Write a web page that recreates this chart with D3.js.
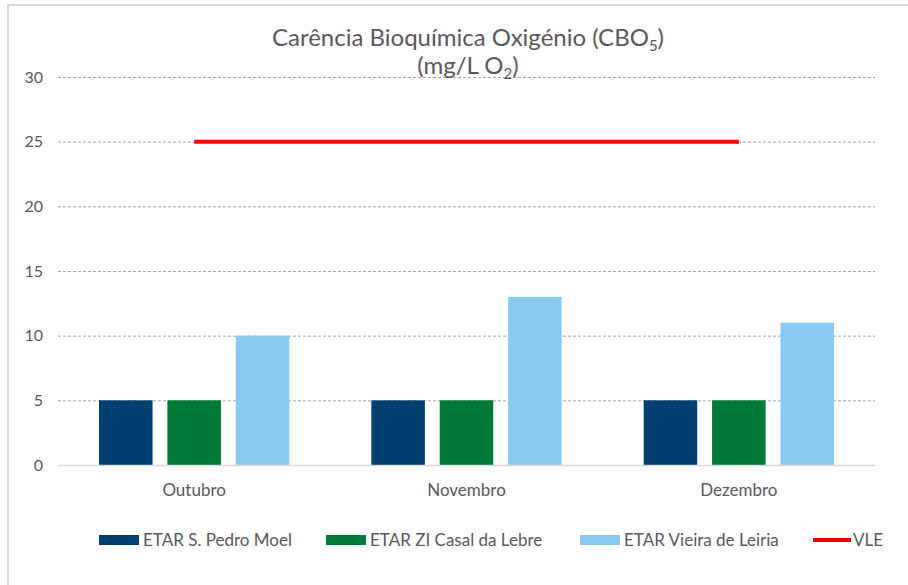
<!DOCTYPE html>
<html>
<head>
<meta charset="utf-8">
<script src="https://cdn.jsdelivr.net/npm/d3@7"></script>
<style>
  body { margin: 0; background: #fff; }
  text { font-family: Lato, "Open Sans", sans-serif; fill: #595959; }
</style>
</head>
<body>
<script>
// data
var months = ["Outubro", "Novembro", "Dezembro"];
var seriesNames = ["ETAR S. Pedro Moel", "ETAR ZI Casal da Lebre", "ETAR Vieira de Leiria"];
var pedroMoel = [5, 5, 5];
var casalLebre = [5, 5, 5];
var vieiraLeiria = [10, 13, 11];
var vle = [25, 25, 25];
var yTicks = [0, 5, 10, 15, 20, 25, 30];

var colors = ["#003f6f", "#007a37", "#89caf2"];
var lineColor = "#ff0000";

var W = 908, H = 585;
var margin = {top: 77, right: 33, bottom: 120, left: 58},
    width = W - margin.left - margin.right,
    height = H - margin.top - margin.bottom;

var svg = d3.select("body").append("svg")
    .attr("width", W)
    .attr("height", H);

// chart border
svg.append("rect")
    .attr("x", 8).attr("y", 5)
    .attr("width", W + 10).attr("height", H + 10)
    .attr("fill", "none")
    .attr("stroke", "#d9d9d9")
    .attr("stroke-width", 2);

var g = svg.append("g")
    .attr("transform", "translate(" + margin.left + "," + margin.top + ")");

var x0 = d3.scaleBand().domain(months).range([0, width]).paddingInner(0).paddingOuter(0);
var x1 = d3.scaleBand().domain(seriesNames).range([41, x0.bandwidth() - 41]).paddingInner(0.217);
var y = d3.scaleLinear().domain([0, 30]).range([height, 0]);

// gridlines
g.selectAll(".grid")
    .data(yTicks.filter(function(d) { return d > 0; }))
  .enter().append("line")
    .attr("x1", 0).attr("x2", width)
    .attr("y1", function(d) { return y(d) + 0.5; })
    .attr("y2", function(d) { return y(d) + 0.5; })
    .attr("stroke", "#a6a6a6")
    .attr("stroke-dasharray", "3,2");

// y labels
g.selectAll(".ylab")
    .data(yTicks)
  .enter().append("text")
    .attr("x", -15)
    .attr("y", function(d) { return y(d); })
    .attr("dy", "0.35em")
    .attr("text-anchor", "end")
    .style("font-size", "16px")
    .text(function(d) { return d; });

// bars
var allSeries = [pedroMoel, casalLebre, vieiraLeiria];
seriesNames.forEach(function(name, i) {
  g.selectAll(".bar" + i)
      .data(allSeries[i])
    .enter().append("rect")
      .attr("x", function(d, j) { return x0(months[j]) + x1(name); })
      .attr("y", function(d) { return y(d); })
      .attr("width", x1.bandwidth())
      .attr("height", function(d) { return height - y(d); })
      .attr("fill", colors[i]);
});

// x axis line
g.append("line")
    .attr("x1", 0).attr("x2", width)
    .attr("y1", height + 0.5).attr("y2", height + 0.5)
    .attr("stroke", "#d9d9d9")
    .attr("stroke-width", 1.5);

// x labels
g.selectAll(".xlab")
    .data(months)
  .enter().append("text")
    .attr("x", function(d) { return x0(d) + x0.bandwidth() / 2; })
    .attr("y", height + 31)
    .attr("text-anchor", "middle")
    .style("font-size", "17px")
    .text(function(d) { return d; });

// VLE line
var line = d3.line()
    .x(function(d, j) { return x0(months[j]) + x0.bandwidth() / 2; })
    .y(function(d) { return y(d); });

g.append("path")
    .datum(vle)
    .attr("d", line)
    .attr("fill", "none")
    .attr("stroke", lineColor)
    .attr("stroke-width", 4);

// title
var title = svg.append("text")
    .attr("x", 468).attr("y", 46)
    .attr("text-anchor", "middle")
    .style("font-size", "24px");
title.append("tspan").text("Carência Bioquímica Oxigénio (CBO");
title.append("tspan").attr("dy", 5).style("font-size", "15px").text("5");
title.append("tspan").attr("dy", -5).text(")");

var title2 = svg.append("text")
    .attr("x", 468).attr("y", 74)
    .attr("text-anchor", "middle")
    .style("font-size", "24px");
title2.append("tspan").text("(mg/L O");
title2.append("tspan").attr("dy", 5).style("font-size", "15px").text("2");
title2.append("tspan").attr("dy", -5).text(")");

// legend
var legendX = [99, 326, 580, 813];
var legend = svg.append("g");
seriesNames.forEach(function(name, i) {
  legend.append("rect")
      .attr("x", legendX[i]).attr("y", 535)
      .attr("width", 40).attr("height", 10)
      .attr("fill", colors[i]);
  legend.append("text")
      .attr("x", legendX[i] + 44).attr("y", 540)
      .attr("dy", "0.35em")
      .style("font-size", "17px")
      .text(name);
});
legend.append("line")
    .attr("x1", legendX[3]).attr("x2", legendX[3] + 38)
    .attr("y1", 540).attr("y2", 540)
    .attr("stroke", lineColor)
    .attr("stroke-width", 4);
legend.append("text")
    .attr("x", legendX[3] + 40).attr("y", 540)
    .attr("dy", "0.35em")
    .style("font-size", "17px")
    .text("VLE");
</script>
</body>
</html>
